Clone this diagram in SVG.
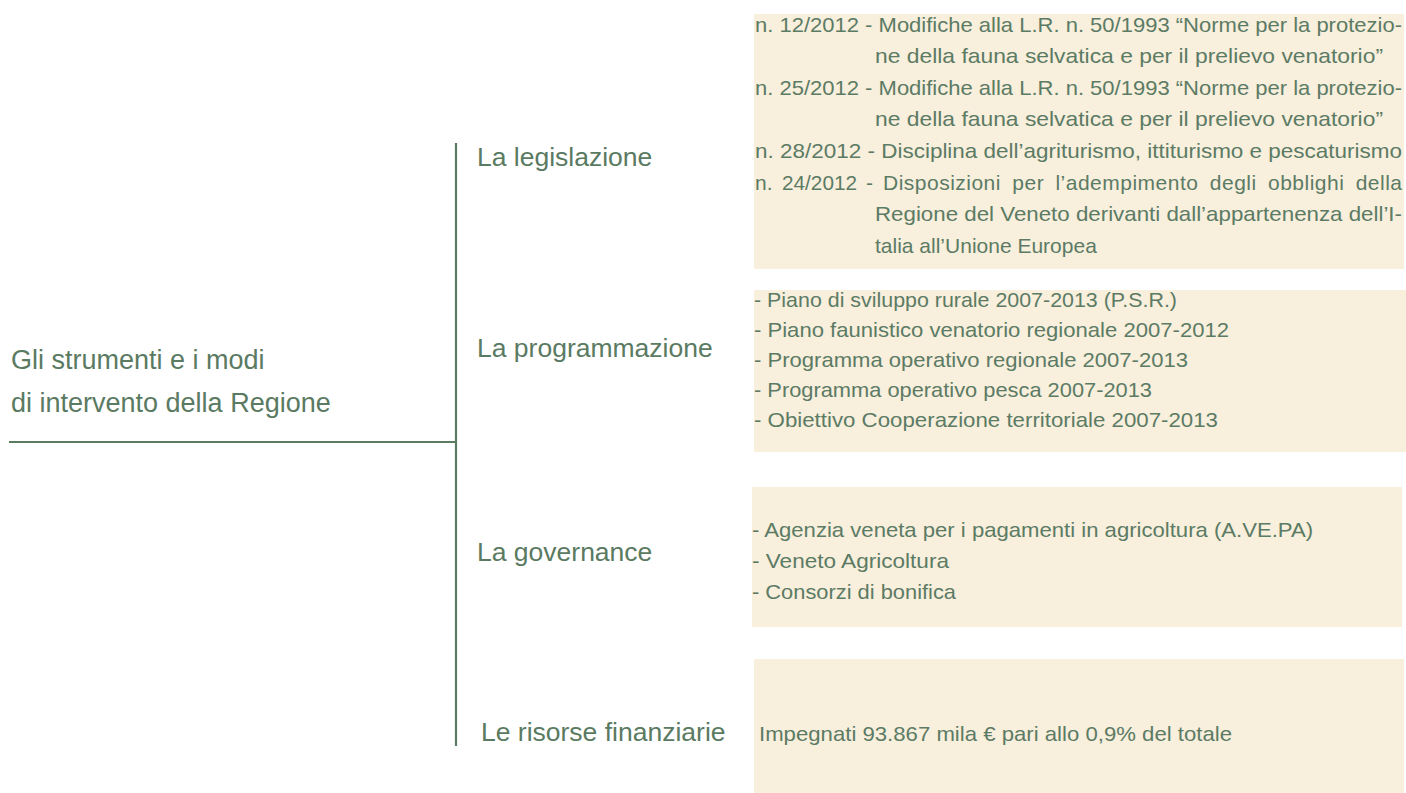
<svg xmlns="http://www.w3.org/2000/svg" width="1406" height="793" viewBox="0 0 1406 793">
<style>
.box{fill:#f8efdc}
.t{font-family:"Liberation Sans",Arial,sans-serif;fill:#5c7b65;font-size:21px}
.lbl{font-family:"Liberation Sans",Arial,sans-serif;fill:#5a7a62;font-size:26.5px}
.ttl{font-family:"Liberation Sans",Arial,sans-serif;fill:#5a7a62;font-size:27px}
.ln{stroke:#5b7b63;stroke-width:2.2;fill:none}
</style>
<rect width="1406" height="793" fill="#ffffff"/>
<g id="connectors">
<line class="ln" x1="9" y1="442" x2="456" y2="442"/>
<line class="ln" x1="456" y1="143" x2="456" y2="746"/>
</g>
<g id="root">
<text class="ttl" x="11" y="369">Gli strumenti e i modi</text>
<text class="ttl" x="11" y="412">di intervento della Regione</text>
</g>
<g id="legislazione">
<text class="lbl" x="477" y="166">La legislazione</text>
<rect class="box" x="754" y="14" width="650" height="255"/>
<text class="t" x="755" y="32" textLength="647" lengthAdjust="spacingAndGlyphs">n. 12/2012 - Modifiche alla L.R. n. 50/1993 “Norme per la protezio-</text>
<text class="t" x="875" y="63" textLength="508" lengthAdjust="spacingAndGlyphs">ne della fauna selvatica e per il prelievo venatorio”</text>
<text class="t" x="755" y="95" textLength="647" lengthAdjust="spacingAndGlyphs">n. 25/2012 - Modifiche alla L.R. n. 50/1993 “Norme per la protezio-</text>
<text class="t" x="875" y="126" textLength="508" lengthAdjust="spacingAndGlyphs">ne della fauna selvatica e per il prelievo venatorio”</text>
<text class="t" x="755" y="158" textLength="647" lengthAdjust="spacingAndGlyphs">n. 28/2012 - Disciplina dell’agriturismo, ittiturismo e pescaturismo</text>
<text class="t" x="755" y="190">n.</text>
<text class="t" x="782" y="190" textLength="75" lengthAdjust="spacingAndGlyphs">24/2012</text>
<text class="t" x="866" y="190">-</text>
<text class="t" x="883" y="190" textLength="519" lengthAdjust="spacing" word-spacing="5">Disposizioni per l’adempimento degli obblighi della</text>
<text class="t" x="875" y="221" textLength="527" lengthAdjust="spacingAndGlyphs">Regione del Veneto derivanti dall’appartenenza dell’I-</text>
<text class="t" x="875" y="253">talia all’Unione Europea</text>
</g>
<g id="programmazione">
<text class="lbl" x="477" y="357">La programmazione</text>
<rect class="box" x="754" y="290" width="652" height="162"/>
<text class="t" x="754" y="307" textLength="423" lengthAdjust="spacingAndGlyphs">- Piano di sviluppo rurale 2007-2013 (P.S.R.)</text>
<text class="t" x="754" y="337" textLength="475" lengthAdjust="spacingAndGlyphs">- Piano faunistico venatorio regionale 2007-2012</text>
<text class="t" x="754" y="367" textLength="434" lengthAdjust="spacingAndGlyphs">- Programma operativo regionale 2007-2013</text>
<text class="t" x="754" y="397" textLength="398" lengthAdjust="spacingAndGlyphs">- Programma operativo pesca 2007-2013</text>
<text class="t" x="754" y="427" textLength="464" lengthAdjust="spacingAndGlyphs">- Obiettivo Cooperazione territoriale 2007-2013</text>
</g>
<g id="governance">
<text class="lbl" x="477" y="561">La governance</text>
<rect class="box" x="752" y="487" width="650" height="140"/>
<text class="t" x="752" y="537" textLength="561" lengthAdjust="spacingAndGlyphs">- Agenzia veneta per i pagamenti in agricoltura (A.VE.PA)</text>
<text class="t" x="752" y="568" textLength="197" lengthAdjust="spacingAndGlyphs">- Veneto Agricoltura</text>
<text class="t" x="752" y="599" textLength="204" lengthAdjust="spacingAndGlyphs">- Consorzi di bonifica</text>
</g>
<g id="risorse">
<text class="lbl" x="481" y="741">Le risorse finanziarie</text>
<rect class="box" x="754" y="659" width="650" height="134"/>
<text class="t" x="759" y="741" textLength="473" lengthAdjust="spacingAndGlyphs">Impegnati 93.867 mila € pari allo 0,9% del totale</text>
</g>
</svg>
